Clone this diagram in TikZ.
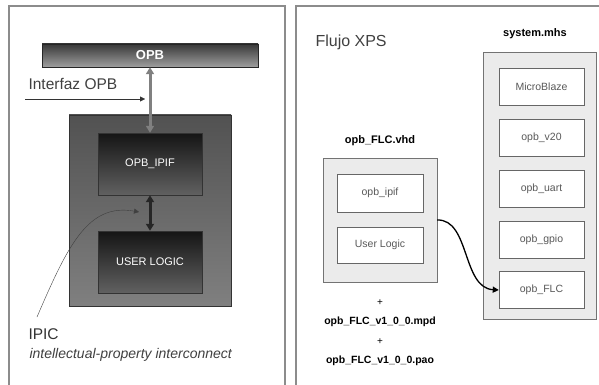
\documentclass[tikz,border=0pt]{standalone}
\usepackage{fontspec}
\setmainfont{Liberation Sans}
\usetikzlibrary{arrows.meta}
\newcommand{\fs}[1]{\fontsize{#1}{#1}\selectfont}
\tikzset{
  darkbox/.style={draw=black!80, top color=black!92, bottom color=black!62,
    minimum width=104, minimum height=62, inner sep=0, text=white, font=\fs{11}},
  filebox/.style={draw=black!55, fill=black!8, inner sep=0},
  partbox/.style={draw=black!60, fill=white, minimum width=85, minimum height=37,
    inner sep=0, text=black!65, font=\fs{10.5}},
  panel/.style={draw=black!45, line width=1.4pt}
}
\begin{document}
\begin{tikzpicture}[x=1pt,y=-1pt]
\useasboundingbox (0,0) rectangle (599,385);
% Marcos
\draw[panel] (9,386) -- (9,6) -- (285,6) -- (285,386);
\draw[panel] (296,386) -- (296,6) -- (600,6);
% Bus OPB
\node[draw=black!85, top color=black!78, bottom color=black!38, minimum width=216, minimum height=23,
  inner sep=0, text=white, font=\bfseries\fs{13}] (opb) at (150,55.5) {OPB};
% Periferico
\node[draw=black!80, top color=black!68, bottom color=black!50, minimum width=162, minimum height=191,
  inner sep=0] (core) at (150,210.5) {};
\node[darkbox] (ipif) at (150,164) {OPB\_IPIF};
\node[darkbox] (ulogic) at (150,262) {USER LOGIC};
% Flechas
\draw[black!50, line width=3pt, {Triangle[width=8pt,length=7pt]}-{Triangle[width=8pt,length=7pt]}]
  (opb) -- (ipif);
\draw[black!85, line width=3pt, {Triangle[width=8pt,length=7pt]}-{Triangle[width=8pt,length=7pt]}]
  (ipif) -- (ulogic);
% Interfaz OPB
\node[anchor=base west, text=black!75, font=\fs{15.5}] (iflabel) at (25,90) {Interfaz OPB};
\coordinate (ifstart) at (25,99);
\coordinate (ifend) at (145,99);
\draw[black!80, -{Triangle[width=5pt,length=5pt]}] (ifstart) -- (ifend);
% IPIC
\node[anchor=base west, text=black!80, font=\fs{15.5}] (ipic) at (25,339) {IPIC};
\node[anchor=base west, text=black!75, font=\itshape\fs{14}] (ipicdesc) at (26,358) {intellectual-property interconnect};
\coordinate (ipicstart) at (37,317);
\coordinate (ipicend) at (139,212);
\draw[black!75, -{Triangle[width=5pt,length=5pt]}] (ipicstart) .. controls (68,245) and (88,203) .. (ipicend);
% Flujo XPS
\node[anchor=base west, text=black!75, font=\fs{16}] (flujo) at (312,47) {Flujo XPS};
% system.mhs
\node[anchor=base, font=\bfseries\fs{11}] (mhstitle) at (535,37) {system.mhs};
\node[filebox, minimum width=113, minimum height=267] (mhs) at (539.5,185.5) {};
\node[partbox] (mblaze) at (541.5,86.5) {MicroBlaze};
\node[partbox] (v20) at (541.5,137.5) {opb\_v20};
\node[partbox] (uart) at (541.5,188.5) {opb\_uart};
\node[partbox] (gpio) at (541.5,240) {opb\_gpio};
\node[partbox] (flc) at (541.5,290) {opb\_FLC};
% opb_FLC.vhd
\node[anchor=base, font=\bfseries\fs{11}] (vhdtitle) at (380,143) {opb\_FLC.vhd};
\node[filebox, minimum width=114, minimum height=124] (vhd) at (380,220) {};
\node[partbox, minimum width=86, minimum height=38] (ipifv) at (380,193) {opb\_ipif};
\node[partbox, minimum width=86, minimum height=36] (ulogicv) at (380,245) {User Logic};
\draw[line width=1.3pt, -{Triangle[width=6pt,length=6pt]}] (vhd.east) .. controls (470,219) and (462,288) .. (flc.west);
% Archivos
\node[font=\fs{10}] (plus1) at (380,303) {+};
\node[anchor=base, font=\bfseries\fs{10.5}] (mpd) at (380,324) {opb\_FLC\_v1\_0\_0.mpd};
\node[font=\fs{10}] (plus2) at (380,342) {+};
\node[anchor=base, font=\bfseries\fs{10.5}] (pao) at (380,363) {opb\_FLC\_v1\_0\_0.pao};
\end{tikzpicture}
\end{document}
